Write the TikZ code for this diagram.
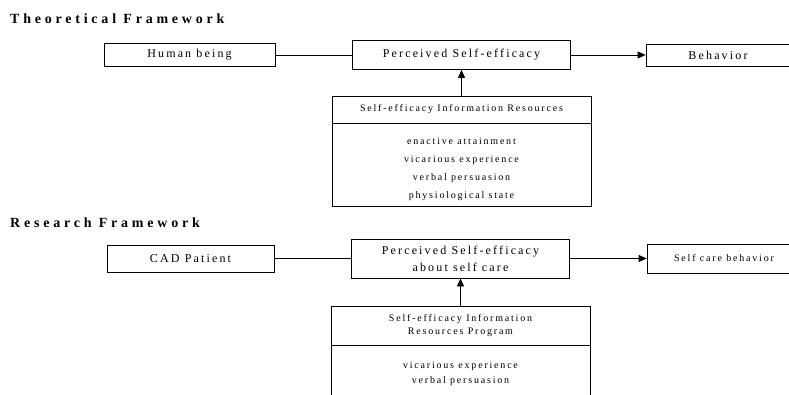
\documentclass[tikz,border=0pt]{standalone}
\usepackage{fontspec}
\setmainfont{Liberation Serif}
\newfontfamily\spaced[LetterSpace=18,Ligatures=NoCommon]{Liberation Serif}
\newfontfamily\spacedtitle[LetterSpace=27,Ligatures=NoCommon]{Liberation Serif}
\usetikzlibrary{arrows.meta,positioning}

\begin{document}
\begin{tikzpicture}[
        x=1pt,y=-1pt,
        font=\spaced\fontsize{10}{13}\selectfont,
        title/.style={anchor=base west,inner sep=0pt,font=\spacedtitle\bfseries\fontsize{14}{16}\selectfont},
        box/.style={draw,line width=0.8pt,inner sep=1pt,align=center},
        bigtext/.style={font=\spaced\fontsize{12}{17}\selectfont},
        link/.style={line width=0.8pt},
        arrow/.style={-{Triangle[length=8pt,width=7pt]},line width=0.8pt}
    ]
        \clip (0,0) rectangle (789,395);

        % theoretical framework
        \node[title] (ttheory) at (10,24) {Theoretical Framework};
        \node[box,bigtext,minimum width=171pt,minimum height=23pt] (human) at (189.5,55) {Human being};
        \node[box,bigtext,minimum width=218pt,minimum height=29pt] (percv) at (461.5,55) {Perceived Self-efficacy};
        \node[box,bigtext,minimum width=144pt,minimum height=22pt] (behav) at (718,55) {Behavior};
        \node[box,minimum width=259pt,minimum height=27pt] (reshead) at (461.5,109.5) {Self-efficacy Information Resources};
        \node[box,minimum width=259pt,minimum height=83pt,font=\spaced\fontsize{10}{18}\selectfont] (reslist) [below=0pt of reshead]
            {\rule{0pt}{15pt}enactive attainment\\vicarious experience\\verbal persuasion\\physiological state};

        \draw[link] (human) -- (percv);
        \draw[arrow] (percv) -- (behav);
        \draw[arrow] (reshead) -- (percv);

        % research framework
        \node[title] (tresearch) at (10,228) {Research Framework};
        \node[box,bigtext,minimum width=167pt,minimum height=27pt] (cad) at (190.5,258.5) {CAD Patient};
        \node[box,bigtext,minimum width=218pt,minimum height=39pt] (percvcare) at (460.5,258.5) {Perceived Self-efficacy\\about self care};
        \node[box,minimum width=154pt,minimum height=29pt] (care) at (724,258.5) {Self care behavior};
        \node[box,minimum width=259pt,minimum height=39pt] (proghead) at (460.5,325.5) {Self-efficacy Information\\Resources Program};
        \node[box,minimum width=259pt,minimum height=55pt,font=\spaced\fontsize{10}{15}\selectfont] (proglist) [below=0pt of proghead]
            {vicarious experience\\verbal persuasion};

        \draw[link] (cad) -- (percvcare);
        \draw[arrow] (percvcare) -- (care);
        \draw[arrow] (proghead) -- (percvcare);
    \end{tikzpicture}
\end{document}
